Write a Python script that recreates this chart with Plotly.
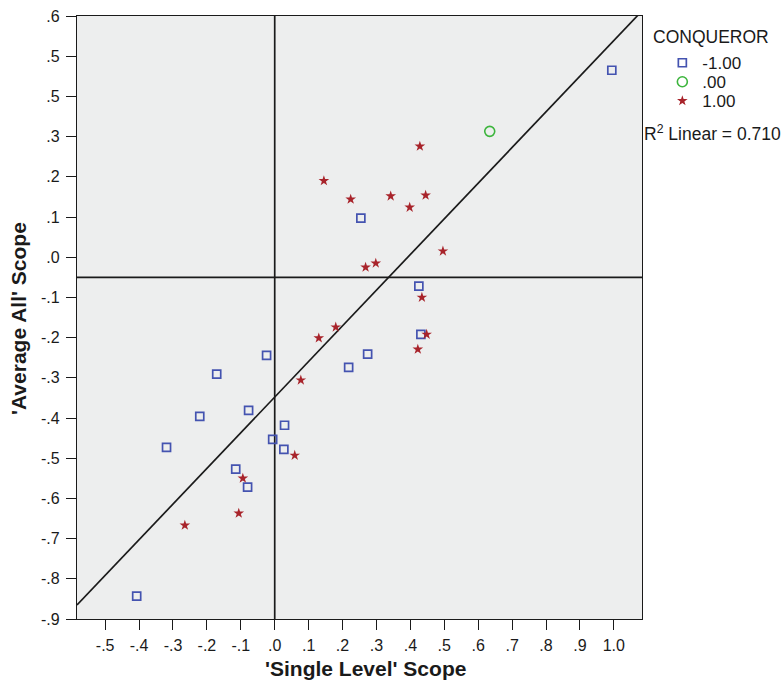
import plotly.graph_objects as go

# CONQUEROR = -1.00 (blue squares)
neg_x = [0.994, 0.254, 0.425, 0.431, -0.024, 0.274, 0.218, -0.171, -0.221, -0.077,
         0.029, -0.006, 0.027, -0.319, -0.115, -0.080, -0.407]
neg_y = [0.465, 0.097, -0.072, -0.192, -0.244, -0.241, -0.274, -0.291, -0.396, -0.381,
         -0.418, -0.453, -0.478, -0.473, -0.527, -0.572, -0.843]

# CONQUEROR = .00 (green circle)
zero_x = [0.634]
zero_y = [0.313]

# CONQUEROR = 1.00 (red stars)
pos_x = [0.428, 0.145, 0.224, 0.342, 0.445, 0.398, 0.496, 0.268, 0.298, 0.434,
         0.448, 0.422, 0.180, 0.130, 0.077, 0.059, -0.094, -0.106, -0.265]
pos_y = [0.276, 0.190, 0.144, 0.152, 0.154, 0.124, 0.015, -0.025, -0.015, -0.100,
         -0.192, -0.229, -0.174, -0.201, -0.306, -0.493, -0.550, -0.637, -0.667]

# Linear fit (R^2 = 0.710) and reference lines
fit_slope = 0.887
fit_intercept = -0.348
ref_x = 0.0
ref_y = -0.05

x_range = [-0.583, 1.083]
y_range = [-0.9, 0.6]

x_tickvals = [-0.5, -0.4, -0.3, -0.2, -0.1, 0.0, 0.1, 0.2, 0.3, 0.4, 0.5, 0.6, 0.7, 0.8, 0.9, 1.0]
x_ticktext = ['-.5', '-.4', '-.3', '-.2', '-.1', '.0', '.1', '.2', '.3', '.4', '.5', '.6', '.7', '.8', '.9', '1.0']
y_tickvals = [0.6, 0.5, 0.4, 0.3, 0.2, 0.1, 0.0, -0.1, -0.2, -0.3, -0.4, -0.5, -0.6, -0.7, -0.8, -0.9]
y_ticktext = ['.6', '.5', '.5', '.3', '.2', '.1', '.0', '-.1', '-.2', '-.3', '-.4', '-.5', '-.6', '-.7', '-.8', '-.9']

FONT = "Liberation Sans, Arial, sans-serif"
INK = '#1a1a1a'

fig = go.Figure()

# reference lines
fig.add_trace(go.Scatter(x=[ref_x, ref_x], y=y_range, mode='lines',
                         line=dict(color=INK, width=1.7), showlegend=False, hoverinfo='skip'))
fig.add_trace(go.Scatter(x=x_range, y=[ref_y, ref_y], mode='lines',
                         line=dict(color=INK, width=1.7), showlegend=False, hoverinfo='skip'))
# fit line
fig.add_trace(go.Scatter(x=x_range, y=[fit_intercept + fit_slope * v for v in x_range], mode='lines',
                         line=dict(color=INK, width=1.7), showlegend=False, hoverinfo='skip'))

fig.add_trace(go.Scatter(x=neg_x, y=neg_y, mode='markers', name='-1.00', legend='legend',
                         marker=dict(symbol='square-open', size=8, color='#4453B0',
                                     line=dict(width=1.7, color='#4453B0'))))
fig.add_trace(go.Scatter(x=zero_x, y=zero_y, mode='markers', name='.00', legend='legend2',
                         marker=dict(symbol='circle-open', size=10, color='#3DB53D',
                                     line=dict(width=1.6, color='#3DB53D'))))
fig.add_trace(go.Scatter(x=pos_x, y=pos_y, mode='markers', name='1.00', legend='legend3',
                         marker=dict(symbol='star', size=8, color='#A8232A',
                                     line=dict(width=0))))

leg_common = dict(x=1.036, xanchor='left', yanchor='middle',
                  font=dict(size=17, family=FONT, color=INK),
                  bgcolor='rgba(0,0,0,0)', itemwidth=30)

fig.update_layout(
    width=784, height=682,
    margin=dict(l=77, r=142, t=16, b=63, autoexpand=False),
    paper_bgcolor='white',
    plot_bgcolor='#EDEEEE',
    font=dict(family=FONT, size=16, color=INK),
    showlegend=True,
    legend=dict(y=0.9217, **leg_common),
    legend2=dict(y=0.8902, **leg_common),
    legend3=dict(y=0.8587, **leg_common),
    xaxis=dict(range=x_range, tickvals=x_tickvals, ticktext=x_ticktext,
               showgrid=False, zeroline=False, showline=True, linecolor=INK,
               linewidth=1.3, mirror=True, ticks='outside', ticklen=10,
               tickcolor=INK, tickwidth=1.3, tickfont=dict(size=16),
               ticklabelstandoff=2, automargin=False),
    yaxis=dict(range=y_range, tickvals=y_tickvals, ticktext=y_ticktext,
               showgrid=False, zeroline=False, showline=True, linecolor=INK,
               linewidth=1.3, mirror=True, ticks='outside', ticklen=10,
               tickcolor=INK, tickwidth=1.3, tickfont=dict(size=16),
               ticklabelstandoff=3, automargin=False),
)

# axis titles
fig.add_annotation(text="'Single Level' Scope", xref='paper', yref='paper',
                   x=0.5115, y=-0.0813, xanchor='center', yanchor='middle', showarrow=False,
                   font=dict(size=21, family=FONT, color=INK, weight='bold'))
fig.add_annotation(text="'Average All' Scope", xref='paper', yref='paper',
                   x=-0.1044, y=0.4975, xanchor='center', yanchor='middle', showarrow=False,
                   textangle=-90,
                   font=dict(size=21, family=FONT, color=INK, weight='bold'))

# legend heading and fit label
fig.add_annotation(text="CONQUEROR", xref='paper', yref='paper', x=1.0159, y=0.965,
                   xanchor='left', yanchor='middle', showarrow=False,
                   font=dict(size=17.5, family=FONT, color=INK))
fig.add_annotation(text="R<sup>2</sup> Linear = 0.710", xref='paper', yref='paper',
                   x=1.0, y=0.806, xanchor='left', yanchor='middle', showarrow=False,
                   font=dict(size=17.5, family=FONT, color=INK))

fig.write_html("out.html")
